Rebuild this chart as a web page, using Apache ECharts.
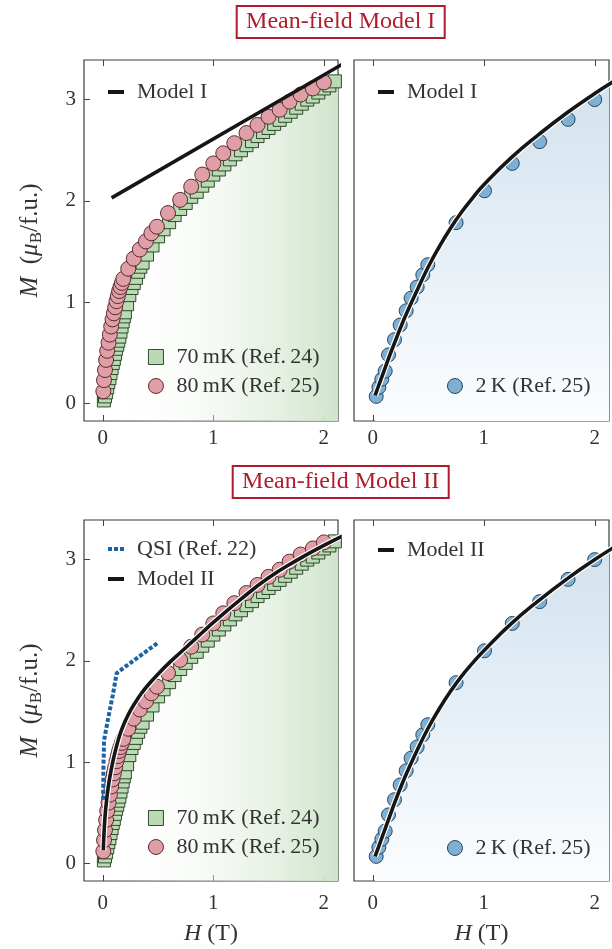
<!DOCTYPE html>
<html>
<head>
<meta charset="utf-8">
<script src="https://cdn.jsdelivr.net/npm/echarts@6/dist/echarts.min.js"></script>
<style>
  html, body { margin: 0; padding: 0; background: #ffffff; }
  #chart { width: 612px; height: 949px; }
</style>
</head>
<body>
<div id="chart"></div>
<script>
// Magnetization M (μB/f.u.) versus field H (T)

// 70 mK data (Ref. 24)
const field70mK = [0.01,0.02,0.03,0.04,0.05,0.06,0.07,0.08,0.09,0.10,0.11,0.12,0.13,0.14,0.15,0.16,0.17,0.18,0.19,0.20,
  0.22,0.24,0.26,0.28,0.30,0.32,0.34,0.36,0.40,0.45,0.50,0.55,0.60,0.65,0.70,0.75,0.80,0.85,0.90,0.95,
  1.00,1.05,1.10,1.15,1.20,1.25,1.30,1.35,1.40,1.45,1.50,1.55,1.60,1.65,1.70,1.75,1.80,1.85,1.90,1.95,
  2.00,2.05,2.10,2.15];
const mag70mK = [0.03,0.07,0.11,0.16,0.21,0.25,0.30,0.35,0.40,0.44,0.49,0.54,0.58,0.62,0.66,0.71,0.76,0.81,0.86,0.90,
  0.98,1.07,1.14,1.19,1.24,1.30,1.35,1.39,1.47,1.56,1.65,1.72,1.79,1.86,1.92,1.98,2.04,2.09,2.15,2.20,
  2.26,2.31,2.36,2.41,2.46,2.50,2.55,2.59,2.64,2.68,2.72,2.76,2.80,2.84,2.88,2.92,2.96,3.00,3.03,3.07,
  3.11,3.14,3.18,3.21];

// 80 mK data (Ref. 25)
const field80mK = [0.005,0.011,0.02,0.03,0.04,0.052,0.064,0.076,0.088,0.10,0.112,0.124,0.136,0.148,0.16,0.173,0.186,
  0.23,0.28,0.335,0.39,0.44,0.49,0.59,0.70,0.80,0.90,1.00,1.09,1.19,1.30,1.40,1.50,1.60,1.69,1.79,1.90,2.00];
const mag80mK = [0.12,0.23,0.33,0.43,0.52,0.60,0.68,0.76,0.83,0.89,0.95,1.01,1.06,1.11,1.15,1.19,1.23,
  1.33,1.43,1.52,1.60,1.68,1.745,1.88,2.01,2.14,2.26,2.37,2.47,2.57,2.67,2.75,2.83,2.90,2.98,3.05,3.11,3.17];

// 2 K data (Ref. 25)
const field2K = [0.03,0.054,0.081,0.111,0.141,0.195,0.246,0.30,0.345,0.399,0.45,0.495,0.75,1.006,1.256,1.503,1.759,1.999];
const mag2K = [0.07,0.16,0.24,0.32,0.48,0.63,0.775,0.915,1.04,1.15,1.27,1.37,1.785,2.10,2.37,2.585,2.805,3.00];

// Mean-field Model I
const fieldModelI_mK = [0.08, 2.2];
const magModelI_mK = [2.03, 3.37];
const fieldModelI_2K = [0.02,0.05,0.10,0.15,0.20,0.25,0.30,0.40,0.50,0.60,0.70,0.80,0.90,1.00,1.25,1.50,1.75,2.00,2.20];
const magModelI_2K = [0.08,0.17,0.32,0.47,0.61,0.75,0.88,1.12,1.35,1.55,1.73,1.89,2.03,2.16,2.43,2.66,2.87,3.06,3.20];

// Mean-field Model II
const fieldModelII_mK = [0.005,0.01,0.02,0.03,0.05,0.075,0.10,0.13,0.16,0.20,0.25,0.30,0.35,0.40,0.50,0.60,0.70,0.80,0.90,1.00,1.25,1.50,1.75,2.00,2.20];
const magModelII_mK = [0.13,0.28,0.46,0.58,0.76,0.92,1.05,1.18,1.29,1.40,1.51,1.60,1.68,1.75,1.87,1.98,2.08,2.18,2.28,2.38,2.61,2.82,2.99,3.14,3.25];
const fieldModelII_2K = [0.02,0.05,0.10,0.15,0.20,0.25,0.30,0.40,0.50,0.60,0.70,0.80,0.90,1.00,1.25,1.50,1.75,2.00,2.20];
const magModelII_2K = [0.07,0.16,0.31,0.46,0.61,0.75,0.88,1.12,1.34,1.53,1.70,1.85,1.98,2.10,2.37,2.60,2.81,3.00,3.14];

// QSI (Ref. 22)
const fieldQSI = [0.003,0.006,0.012,0.05,0.09,0.126,0.20,0.35,0.50];
const magQSI = [0.63,0.95,1.22,1.44,1.66,1.88,1.94,2.06,2.18];

// axis ticks
const xTicks = [0, 1, 2];
const yTicks = [0, 1, 2, 3];

const X_MIN = -0.17, X_MAX = 2.128;
const Y_MIN = -0.173, Y_MAX = 3.391;

const FONT = 'Liberation Serif';
const INK = '#333333';
const FRAME = '#3c3c3c';
const TITLE_RED = '#b01c2c';

const GREEN_FILL = '#b9dab3', GREEN_EDGE = '#1f3a1f';
const PINK_FILL = '#e09ea7', PINK_EDGE = '#4b1e22';
const BLUE_FILL = '#7eb0d4', BLUE_EDGE = '#1c3550';
const QSI_BLUE = '#1c62a6';
const CURVE = '#161616';

const pairs = (xs, ys) => xs.map((x, i) => [x, ys[i]]);

const chart = echarts.init(document.getElementById('chart'), null, { renderer: 'canvas' });

const grids = [
  { left: 84, top: 60, width: 254, height: 361 },
  { left: 354, top: 60, width: 255, height: 361 },
  { left: 84, top: 520, width: 254, height: 361 },
  { left: 354, top: 520, width: 255, height: 361 }
].map(g => Object.assign(g, { show: true, borderColor: FRAME, borderWidth: 1.2, backgroundColor: 'transparent' }));

const tickStyle = { inside: true, length: 6, lineStyle: { color: '#444', width: 1 } };
const labelStyle = { fontFamily: FONT, fontSize: 21, color: INK };
const noLine = { show: false, onZero: false };

const xAxes = [];
const yAxes = [];
grids.forEach((g, i) => {
  const bottomRow = i >= 2;
  const leftCol = i % 2 === 0;
  xAxes.push({
    gridIndex: i, type: 'value', position: 'bottom', min: X_MIN, max: X_MAX,
    axisLine: noLine, splitLine: { show: false },
    axisTick: Object.assign({ customValues: xTicks }, tickStyle),
    axisLabel: Object.assign({ customValues: xTicks, margin: bottomRow ? 12 : 7 }, labelStyle),
    name: bottomRow ? '{it|H} (T)' : '',
    nameLocation: 'middle', nameGap: 41,
    nameTextStyle: {
      fontFamily: FONT, fontSize: 24, color: INK,
      rich: { it: { fontFamily: FONT, fontSize: 24, fontStyle: 'italic', color: INK } }
    }
  });
  xAxes.push({
    gridIndex: i, type: 'value', position: 'top', min: X_MIN, max: X_MAX,
    axisLine: noLine, splitLine: { show: false },
    axisTick: Object.assign({ customValues: xTicks }, tickStyle),
    axisLabel: { show: false }
  });
  yAxes.push({
    gridIndex: i, type: 'value', position: 'left', min: Y_MIN, max: Y_MAX,
    axisLine: noLine, splitLine: { show: false },
    axisTick: leftCol ? Object.assign({ customValues: yTicks }, tickStyle) : { show: false },
    axisLabel: leftCol ? Object.assign({ customValues: yTicks, margin: 8 }, labelStyle) : { show: false },
    name: leftCol ? '{it|M}\u2002({it|μ}{sub|B}/f.u.)' : '',
    nameLocation: 'middle', nameGap: 39,
    nameTextStyle: {
      fontFamily: FONT, fontSize: 25, color: INK, lineHeight: 30,
      rich: {
        it: { fontFamily: FONT, fontSize: 25, fontStyle: 'italic', color: INK, lineHeight: 30 },
        sub: { fontFamily: FONT, fontSize: 17, color: INK, verticalAlign: 'bottom', lineHeight: 17 }
      }
    }
  });
  yAxes.push({
    gridIndex: i, type: 'value', position: 'right', min: Y_MIN, max: Y_MAX,
    axisLine: noLine, splitLine: { show: false },
    axisTick: leftCol ? Object.assign({ customValues: yTicks }, tickStyle) : { show: false },
    axisLabel: { show: false }
  });
});

const greenFill = () => new echarts.graphic.LinearGradient(0, 0, 1, 0, [
  { offset: 0, color: 'rgba(255,255,255,0)' },
  { offset: 1, color: '#cfe4ca' }
]);
const blueFill = () => new echarts.graphic.LinearGradient(0, 0, 0, 1, [
  { offset: 0, color: '#d2e2ee' },
  { offset: 1, color: '#fbfdff' }
]);

function areaSeries(name, g, xs, ys, color) {
  return {
    name, type: 'line', xAxisIndex: 2 * g, yAxisIndex: 2 * g, z: 1,
    data: pairs(xs, ys), symbol: 'none', smooth: 0.2,
    lineStyle: { width: 0, opacity: 0 },
    areaStyle: { origin: 'start', color, opacity: 1 },
    silent: true
  };
}
function markerSeries(name, g, xs, ys, symbol, size, fill, edge, z) {
  return {
    name, type: 'scatter', xAxisIndex: 2 * g, yAxisIndex: 2 * g, z,
    data: pairs(xs, ys), symbol, symbolSize: size,
    itemStyle: { color: fill, borderColor: edge, borderWidth: 0.9, opacity: 1 },
    silent: true
  };
}
function curveSeries(name, g, xs, ys, color, width, z, extra) {
  return Object.assign({
    name, type: 'line', xAxisIndex: 2 * g, yAxisIndex: 2 * g, z,
    data: pairs(xs, ys), symbol: 'none', smooth: 0.5,
    lineStyle: { color, width, cap: 'butt' },
    silent: true
  }, extra || {});
}

const NAME70 = '70\u2009mK (Ref.\u200924)';
const NAME80 = '80\u2009mK (Ref.\u200925)';
const NAME2K = '2\u2009K (Ref.\u200925)';
const NAME_QSI = 'QSI (Ref.\u200922)';

const series = [
  // Model I, low temperature
  areaSeries('area70-a', 0, field70mK, mag70mK, greenFill()),
  markerSeries(NAME70, 0, field70mK, mag70mK, 'rect', 13, GREEN_FILL, GREEN_EDGE, 2),
  markerSeries(NAME80, 0, field80mK, mag80mK, 'circle', 15, PINK_FILL, PINK_EDGE, 3),
  curveSeries('Model I', 0, fieldModelI_mK, magModelI_mK, CURVE, 3.6, 4, { smooth: false }),
  // Model I, 2 K
  areaSeries('area2K-a', 1, fieldModelI_2K, magModelI_2K, blueFill()),
  markerSeries(NAME2K, 1, field2K, mag2K, 'circle', 14, BLUE_FILL, BLUE_EDGE, 2),
  curveSeries('halo-a', 1, fieldModelI_2K, magModelI_2K, '#ffffff', 6, 3),
  curveSeries('Model I', 1, fieldModelI_2K, magModelI_2K, CURVE, 3.6, 4),
  // Model II, low temperature
  areaSeries('area70-b', 2, field70mK, mag70mK, greenFill()),
  markerSeries(NAME70, 2, field70mK, mag70mK, 'rect', 13, GREEN_FILL, GREEN_EDGE, 2),
  markerSeries(NAME80, 2, field80mK, mag80mK, 'circle', 15, PINK_FILL, PINK_EDGE, 3),
  curveSeries('halo-b', 2, fieldModelII_mK, magModelII_mK, '#ffffff', 6, 4),
  curveSeries('Model II', 2, fieldModelII_mK, magModelII_mK, CURVE, 3.6, 5),
  curveSeries(NAME_QSI, 2, fieldQSI, magQSI, QSI_BLUE, 4, 6, {
    smooth: false, lineStyle: { color: QSI_BLUE, width: 4, type: [4, 2], cap: 'butt' }
  }),
  // Model II, 2 K
  areaSeries('area2K-b', 3, fieldModelII_2K, magModelII_2K, blueFill()),
  markerSeries(NAME2K, 3, field2K, mag2K, 'circle', 14, BLUE_FILL, BLUE_EDGE, 2),
  curveSeries('halo-c', 3, fieldModelII_2K, magModelII_2K, '#ffffff', 6, 3),
  curveSeries('Model II', 3, fieldModelII_2K, magModelII_2K, CURVE, 3.6, 4)
];

const legendText = { fontFamily: FONT, fontSize: 22, color: INK, padding: [0, 0, 0, 8] };
const lineIcon = { icon: 'rect', itemStyle: { color: CURVE, borderWidth: 0 } };
const dotsIcon = { icon: 'path://M0,0h4v4h-4zM6,0h4v4h-4zM12,0h4v4h-4z', itemStyle: { color: QSI_BLUE, borderWidth: 0 } };
const squareIcon = { icon: 'rect', itemStyle: { color: GREEN_FILL, borderColor: GREEN_EDGE, borderWidth: 0.9 } };
const pinkIcon = { icon: 'circle', itemStyle: { color: PINK_FILL, borderColor: PINK_EDGE, borderWidth: 0.9 } };
const blueIcon = { icon: 'circle', itemStyle: { color: BLUE_FILL, borderColor: BLUE_EDGE, borderWidth: 0.9 } };

function legend(left, top, items, opts) {
  return Object.assign({
    left, top, orient: 'vertical', padding: 0, selectedMode: false,
    itemWidth: 16, itemHeight: 4, itemGap: 8,
    textStyle: legendText,
    data: items
  }, opts || {});
}

const legends = [
  legend(108, 81, [Object.assign({ name: 'Model I' }, lineIcon)]),
  legend(148, 346, [Object.assign({ name: NAME70 }, squareIcon), Object.assign({ name: NAME80 }, pinkIcon)],
    { itemWidth: 15, itemHeight: 15, itemGap: 7 }),
  legend(378, 81, [Object.assign({ name: 'Model I' }, lineIcon)]),
  legend(447, 375, [Object.assign({ name: NAME2K }, blueIcon)], { itemWidth: 15, itemHeight: 15 }),
  legend(108, 538, [Object.assign({ name: NAME_QSI }, dotsIcon), Object.assign({ name: 'Model II' }, lineIcon)]),
  legend(148, 807, [Object.assign({ name: NAME70 }, squareIcon), Object.assign({ name: NAME80 }, pinkIcon)],
    { itemWidth: 15, itemHeight: 15, itemGap: 7 }),
  legend(378, 539, [Object.assign({ name: 'Model II' }, lineIcon)]),
  legend(447, 837, [Object.assign({ name: NAME2K }, blueIcon)], { itemWidth: 15, itemHeight: 15 })
];

function panelTitle(text, top) {
  return {
    text, left: 330.7, top, textAlign: 'center', textVerticalAlign: 'top',
    padding: [4, 10, 4, 10],
    borderColor: TITLE_RED, borderWidth: 2, backgroundColor: '#ffffff',
    textStyle: { fontFamily: FONT, fontSize: 24, fontWeight: 'normal', color: TITLE_RED }
  };
}

chart.setOption({
  animation: false,
  backgroundColor: '#ffffff',
  textStyle: { fontFamily: FONT },
  title: [panelTitle('Mean-field Model I', 6), panelTitle('Mean-field Model II', 466)],
  grid: grids,
  xAxis: xAxes,
  yAxis: yAxes,
  legend: legends,
  series
});
</script>
</body>
</html>
